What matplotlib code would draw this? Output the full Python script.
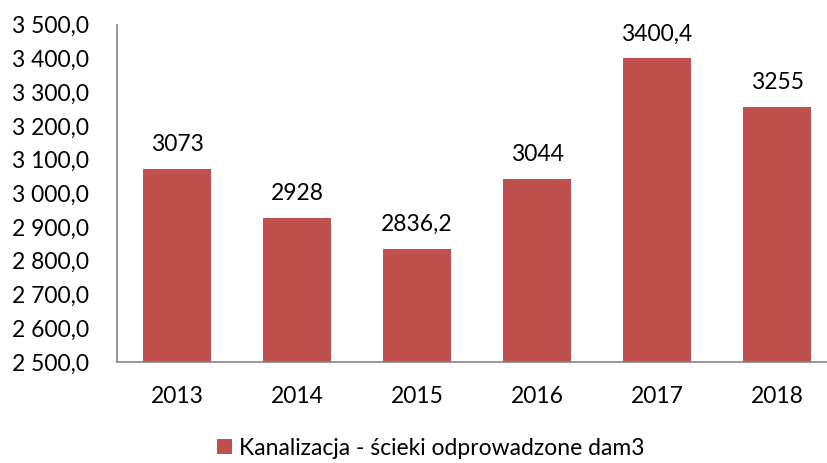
import matplotlib.pyplot as plt
from matplotlib.ticker import FuncFormatter

plt.rcParams['font.family'] = ['Lato', 'DejaVu Sans']

years = ['2013', '2014', '2015', '2016', '2017', '2018']
values = [3073, 2928, 2836.2, 3044, 3400.4, 3255]
labels = ['3073', '2928', '2836,2', '3044', '3400,4', '3255']
series_name = 'Kanalizacja - ścieki odprowadzone dam3'

bar_color = '#C0504D'
axis_color = '#868686'
fs = 16.5

fig = plt.figure(figsize=(8.28, 4.63), dpi=100)
ax = fig.add_axes([0.1413, 0.2181, 0.8696, 0.7285])

x = list(range(len(years)))
bars = ax.bar(x, values, width=0.57, color=bar_color, label=series_name, zorder=2)

ax.set_xlim(-0.5, len(years) - 0.5)
ax.set_ylim(2500, 3500)
ax.set_yticks(range(2500, 3501, 100))
ax.yaxis.set_major_formatter(
    FuncFormatter(lambda v, p: '{:,.1f}'.format(v).replace(',', ' ').replace('.', ',')))
ax.set_xticks(x)
ax.set_xticklabels(years)
ax.tick_params(axis='both', length=0, labelsize=fs, colors='black')
ax.tick_params(axis='y', pad=20)
ax.tick_params(axis='x', pad=17)

for s in ['top', 'right']:
    ax.spines[s].set_visible(False)
for s in ['left', 'bottom']:
    ax.spines[s].set_color(axis_color)
    ax.spines[s].set_linewidth(1.2)

for xi, v, t in zip(x, values, labels):
    ax.annotate(t, (xi, v), xytext=(0, 10), textcoords='offset points',
                ha='center', va='bottom', fontsize=fs)

fig.legend(handles=[bars], labels=[series_name], loc='center',
           bbox_to_anchor=(0.52, 0.032), frameon=False, fontsize=fs,
           handlelength=0.65, handleheight=0.65, handletextpad=0.3)

fig.savefig('out.png', dpi=100)
